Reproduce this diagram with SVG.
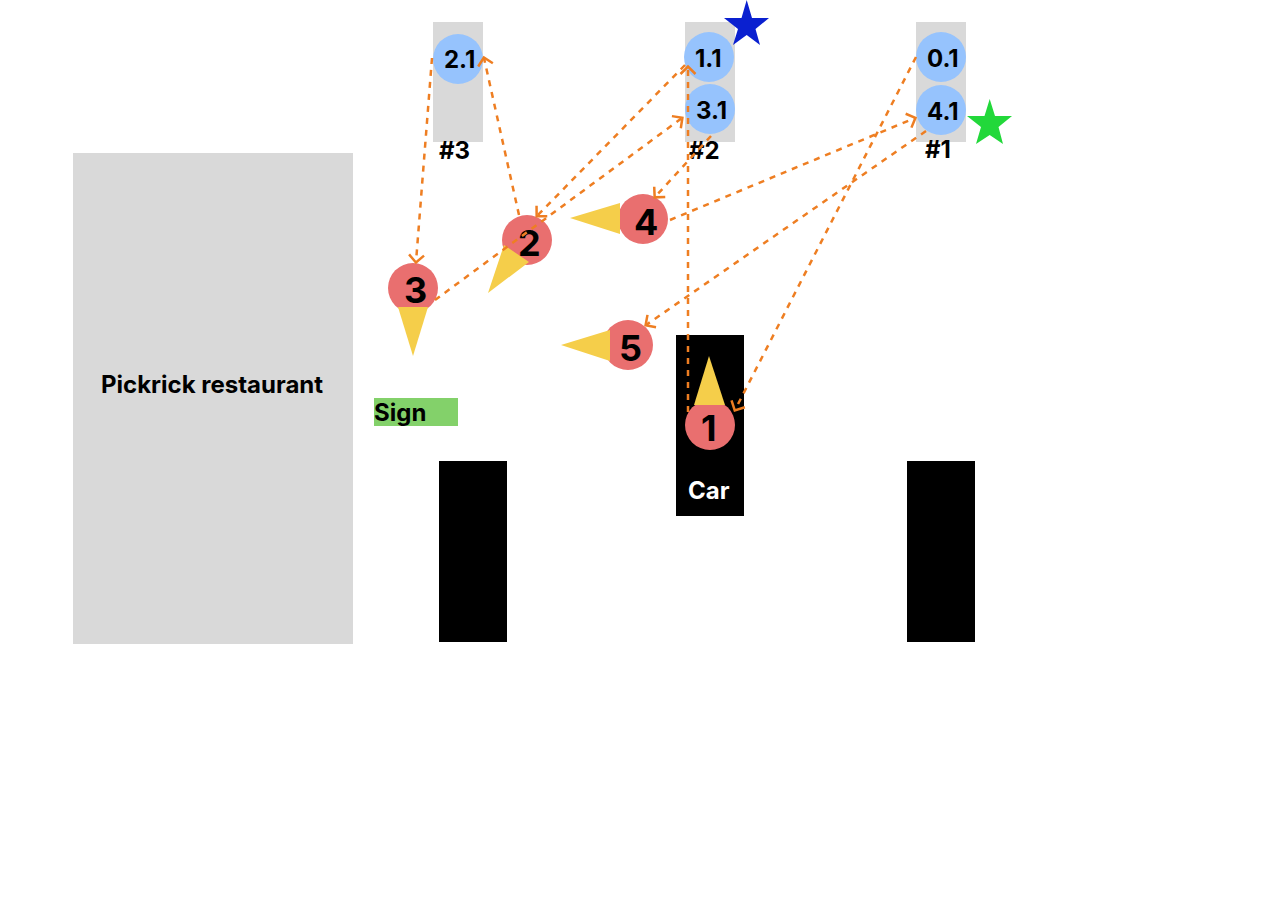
<svg xmlns="http://www.w3.org/2000/svg" width="1286" height="921" viewBox="0 0 1286 921">
<style>
text{font-family:Inter,"Liberation Sans",sans-serif;font-weight:700;font-size:24px;fill:#000}
.big{font-size:36px}
.slot{fill:#d9d9d9}
.blk{fill:#000}
.dest{fill:#96c3fd}
.pos{fill:#e96f6f}
.cone{fill:#f5ce4a}
.c{fill:none;stroke:#ee7e22;stroke-width:2.500;stroke-dasharray:6 6;marker-end:url(#a)}
</style>
<defs>
<marker id="a" markerUnits="userSpaceOnUse" markerWidth="20" markerHeight="20" refX="10" refY="10" orient="auto">
<path d="M3 2.500L10.500 10L3 17.500" fill="none" stroke="#ee7e22" stroke-width="2.500"/>
</marker>
</defs>
<rect width="1286" height="921" fill="#fff"/>
<g id="restaurant"><rect class="slot" x="73" y="153" width="280" height="491"/><text x="101" y="393">Pickrick restaurant</text></g>
<g id="sign"><rect x="374" y="398" width="84" height="28" fill="#83d16a"/><text x="374" y="421">Sign</text></g>
<g id="car-left"><rect class="blk" x="439" y="461" width="68" height="181"/></g>
<g id="car-right"><rect class="blk" x="907" y="461" width="68" height="181"/></g>
<g id="car"><rect class="blk" x="676" y="335" width="68" height="181"/><text x="688" y="499" style="fill:#fff">Car</text></g>
<g id="slot-3"><rect class="slot" x="433" y="22" width="50" height="120"/><text x="439" y="159">#3</text></g>
<g id="slot-2"><rect class="slot" x="685" y="22" width="50" height="120"/><text x="689" y="159">#2</text></g>
<g id="slot-1"><rect class="slot" x="916" y="22" width="50" height="120"/><text x="925" y="158">#1</text></g>
<g id="dest-2-1"><circle class="dest" cx="458" cy="59" r="25"/><text x="444" y="68">2.1</text></g>
<g id="dest-1-1"><circle class="dest" cx="709" cy="57" r="25"/><text x="695" y="67">1.1</text></g>
<g id="dest-3-1"><circle class="dest" cx="710" cy="109" r="25"/><text x="696" y="119">3.1</text></g>
<g id="dest-0-1"><circle class="dest" cx="941" cy="57" r="25"/><text x="927" y="67">0.1</text></g>
<g id="dest-4-1"><circle class="dest" cx="941" cy="110" r="25"/><text x="927" y="120">4.1</text></g>
<g id="star-blue"><polygon fill="#0a20d0" points="746.700,0 752,18 769,18 755.500,29 760,45 746.700,35 733,45 738,29 724,18 741.500,18"/></g>
<g id="star-green"><polygon fill="#22d83a" points="989.700,99 995,116 1012,116 998.500,127 1003,144 989.700,135 976,144 981,127 967,116 984.500,116"/></g>
<g id="pos-1"><circle class="pos" cx="710" cy="425" r="25"/><polygon class="cone" points="709,356 694,405 725,405"/><text class="big" x="701" y="441">1</text></g>
<g id="pos-2"><circle class="pos" cx="527" cy="240" r="25"/><polygon class="cone" points="504,245 529,262 488,293"/><text class="big" x="518" y="256">2</text></g>
<g id="pos-3"><circle class="pos" cx="413" cy="288" r="25"/><polygon class="cone" points="398,307 428,307 413,356"/><text class="big" x="404" y="303">3</text></g>
<g id="pos-4"><circle class="pos" cx="643" cy="219" r="25"/><polygon class="cone" points="620,203 620,234 570,218"/><text class="big" x="634" y="235">4</text></g>
<g id="pos-5"><circle class="pos" cx="628" cy="345" r="25"/><polygon class="cone" points="610,330 610,361 561,345"/><text class="big" x="619" y="361">5</text></g>
<g id="connectors">
<path class="c" d="M916 57L735 410"/>
<path class="c" d="M688 412L688 67"/>
<path class="c" d="M685 65L537 216"/>
<path class="c" d="M519 215L484 58"/>
<path class="c" d="M432 58L416 262"/>
<path class="c" d="M435 300L682 118"/>
<path class="c" d="M711 136L655 197"/>
<path class="c" d="M670 220L915 118"/>
<path class="c" d="M926 131L646 325"/>
</g>
</svg>
